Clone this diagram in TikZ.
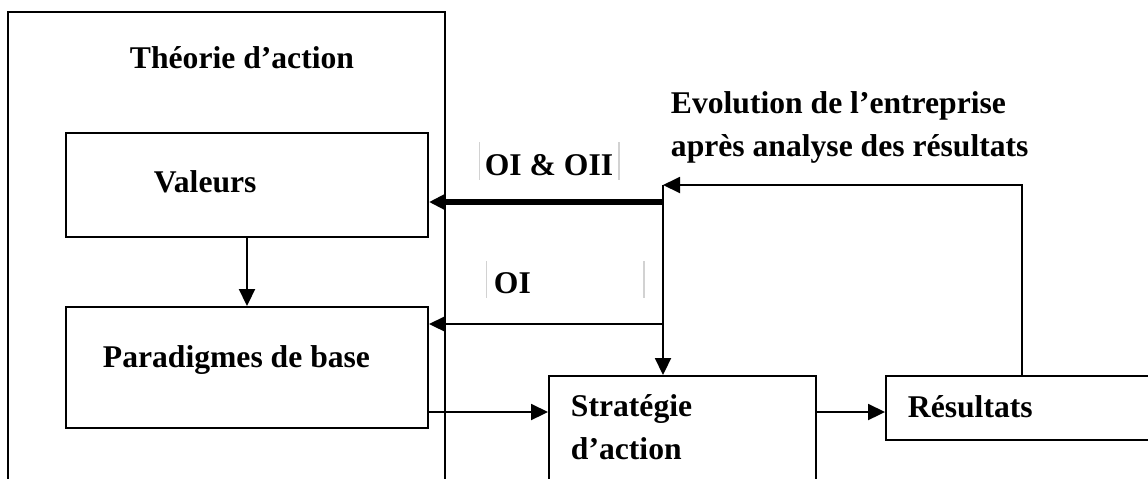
\documentclass[tikz,border=0pt]{standalone}
\usepackage{fontspec}
\setmainfont{Liberation Serif}
\usetikzlibrary{fit}
\usetikzlibrary{positioning}
\usetikzlibrary{arrows.meta}

\begin{document}
\begin{tikzpicture}[
            x = 0.02cm, y = -0.02cm, % one unit = one pixel
            > = {Triangle[length=0.34cm,width=0.32cm]}, % arrow head style
            line width = 1.1pt % line style
        ]

        \tikzstyle{box}=[draw, inner sep=0pt, line width=1.1pt]
        \tikzstyle{txt}=[inner sep=0pt, anchor=base west, align=left,
            font=\bfseries\fontsize{18}{24}\selectfont]
        \tikzstyle{bar}=[draw=gray!35, line width=0.6pt]

        \useasboundingbox (0,0) rectangle (1148,478);
        \clip (0,0) rectangle (1148,478);

	% theory of action
        \node[box, fit={(8,12) (445,540)}] (theo) {};
        \node[txt] (theoT) at (129,68) {Théorie d’action};

        \node[box, fit={(66,133) (428,237)}] (val) {};
        \node[txt] (valT) at (153,192) {Valeurs};

        \node[box, fit={(66,307) (428,428)}] (par) {};
        \node[txt] (parT) at (102,367) {Paradigmes de base};

        \path[->] (val) edge (par);

	% action and results (base = last line)
        \node[box, fit={(549,376) (816,540)}] (strat) {};
        \node[txt] (stratT) at (570,459) {Stratégie\\d’action};

        \node[box, fit={(886,376) (1180,440)}] (res) {};
        \node[txt] (resT) at (907,417) {Résultats};

        \coordinate (lvl) at (0,412);
        \draw[->] (par.east |- lvl) -- (strat.west |- lvl);
        \draw[->] (strat.east |- lvl) -- (res.west |- lvl);

	% feedback loop
        \coordinate (top) at (1022,185);
        \coordinate (fb) at (663,185);
        \node[txt] (evoT) at (670,156) {Evolution de l’entreprise\\après analyse des résultats};

        \draw[->] (res.north -| top) -- (top) -- (fb);
        \draw[->] (fb) -- (strat.north -| fb);

	% learning loops
        \coordinate (l2) at (0,202);
        \coordinate (l1) at (0,324);
        \draw[->, line width=3pt] (fb |- l2) -- (val.east |- l2);
        \draw[->] (fb |- l1) -- (par.east |- l1);

        \node[fit={(480,143) (618,179)}, inner sep=0pt] (ooF) {};
        \node[txt, anchor=base] (ooT) at (549,175) {OI \& OII};
        \draw[bar] (ooF.north west) -- (ooF.south west);
        \draw[bar] (ooF.north east) -- (ooF.south east);

        \node[fit={(487,262) (643,297)}, inner sep=0pt] (oF) {};
        \node[txt] (oT) at (493,293) {OI};
        \draw[bar] (oF.north west) -- (oF.south west);
        \draw[bar] (oF.north east) -- (oF.south east);

\end{tikzpicture}
\end{document}
